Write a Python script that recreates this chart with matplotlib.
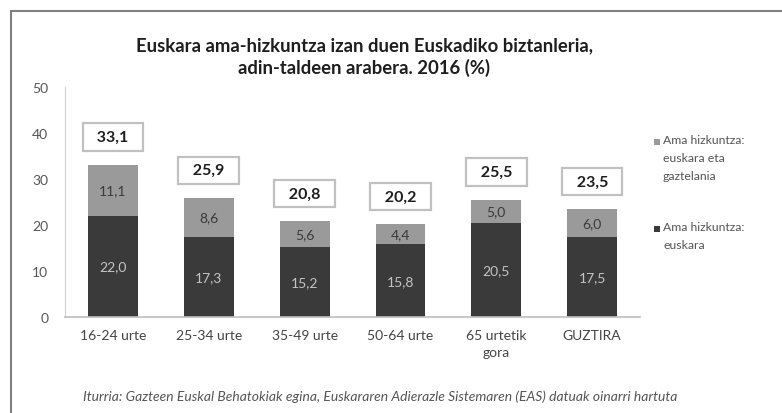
import matplotlib.pyplot as plt
from matplotlib.patches import Rectangle

categories = ["16-24 urte", "25-34 urte", "35-49 urte", "50-64 urte", "65 urtetik\ngora", "GUZTIRA"]
euskara = [22.0, 17.3, 15.2, 15.8, 20.5, 17.5]
biak = [11.1, 8.6, 5.6, 4.4, 5.0, 6.0]
totals = [33.1, 25.9, 20.8, 20.2, 25.5, 23.5]
yticks = [0, 10, 20, 30, 40, 50]
legend_labels = ["Ama hizkuntza:\neuskara eta\ngaztelania", "Ama hizkuntza:\neuskara"]

title = "Euskara ama-hizkuntza izan duen Euskadiko biztanleria,\nadin-taldeen arabera. 2016 (%)"
source = "Iturria: Gazteen Euskal Behatokiak egina, Euskararen Adierazle Sistemaren (EAS) datuak oinarri hartuta"

W, H = 782, 414


def fmt(v):
    return "{:.1f}".format(v).replace(".", ",")


def main():
    plt.rcParams['font.family'] = ['Lato', 'DejaVu Sans']
    fig = plt.figure(figsize=(W / 100, H / 100), dpi=100)
    ax = fig.add_axes([65 / W, 1 - 318 / H, 575 / W, 230 / H])

    dark = "#3a3a3a"
    light = "#9a9a9a"
    x = list(range(len(categories)))

    ax.bar(x, euskara, width=0.52, color=dark)
    ax.bar(x, biak, width=0.52, bottom=euskara, color=light)

    for i in x:
        ax.text(i, euskara[i] / 2, fmt(euskara[i]), ha="center", va="center",
                fontsize=10, color="#c4c4c4")
        ax.text(i, euskara[i] + biak[i] / 2, fmt(biak[i]), ha="center", va="center",
                fontsize=10, color="#3a3a3a")
        ax.text(i, totals[i] + 6, "  " + fmt(totals[i]) + "  ", ha="center", va="center",
                fontsize=11.5, fontweight="bold", color="#1e1e1e",
                bbox=dict(boxstyle="square,pad=0.42", fc="white", ec="#c0c0c0", lw=1.6))

    ax.set_xlim(-0.5, len(categories) - 0.5)
    ax.set_ylim(0, 50)
    ax.set_yticks(yticks)
    ax.set_yticklabels([str(t) for t in yticks], fontsize=10, color="#555555")
    ax.set_xticks(x)
    ax.set_xticklabels(categories, fontsize=10, color="#444444", linespacing=1.45)
    ax.tick_params(length=0)
    ax.tick_params(axis="x", pad=9)
    ax.tick_params(axis="y", pad=12)
    for s in ["top", "right"]:
        ax.spines[s].set_visible(False)
    ax.spines["left"].set_color("#d0d0d0")
    ax.spines["bottom"].set_color("#bdbdbd")
    ax.spines["bottom"].set_linewidth(1.2)

    # legend drawn by hand so the marker sits on the first line
    leg_colors = [light, dark]
    leg_y = [143, 230]
    for lab, col, ly in zip(legend_labels, leg_colors, leg_y):
        fig.patches.append(Rectangle((654 / W, 1 - (ly + 3) / H), 6 / W, 6 / H,
                                     transform=fig.transFigure, fc=col, ec="none"))
        fig.text(663 / W, 1 - (ly - 8) / H, lab, ha="left", va="top", fontsize=8.8,
                 color="#555555", linespacing=1.75)

    fig.text(364 / W, 1 - 57 / H, title, ha="center", va="center", fontsize=13.3,
             fontweight="bold", color="#1e1e1e", linespacing=1.3)
    fig.text(380 / W, 1 - 397 / H, source, ha="center", va="center", fontsize=10,
             style="italic", color="#555555")

    # outer frame, right and bottom edges fall outside the picture
    fig.patches.append(Rectangle((11 / W, -0.1), 1.2, 1.1 - 12 / H,
                                 transform=fig.transFigure, fill=False,
                                 ec="#808080", lw=1.5))

    fig.savefig("out.png", dpi=100)


if __name__ == '__main__':
    main()
